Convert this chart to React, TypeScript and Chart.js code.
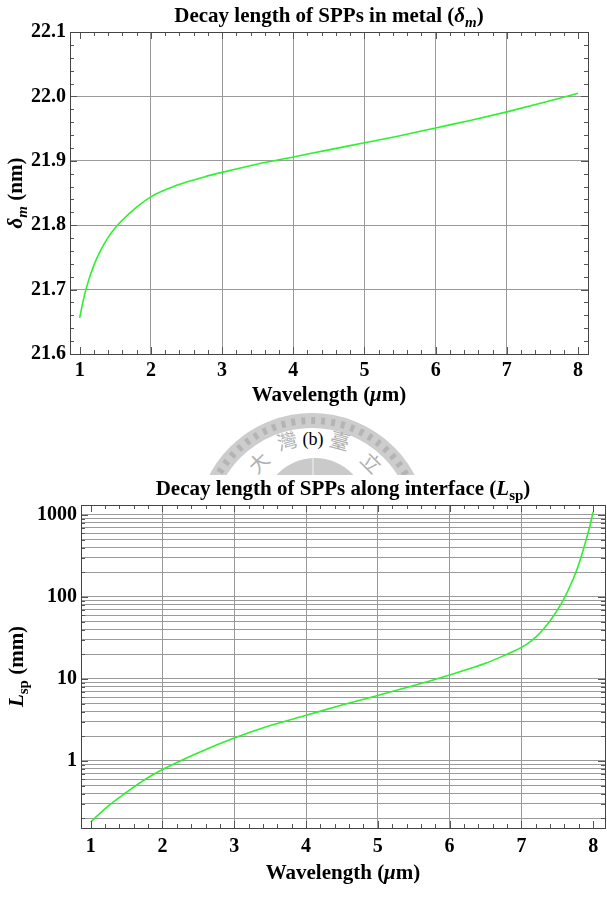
import React, { useEffect, useRef } from "react";
import { Chart, registerables } from "chart.js";

Chart.register(...registerables);

// ---------- data ----------
const wavelengthA = [1.0, 1.05, 1.1, 1.2, 1.3, 1.4, 1.5, 1.6, 1.8, 2.0, 2.25, 2.5, 2.75, 3.0, 3.5, 4.0, 4.5, 5.0, 5.5, 6.0, 6.5, 7.0, 7.5, 8.0];
const deltaM = [21.656, 21.683, 21.705, 21.738, 21.762, 21.781, 21.796, 21.808, 21.828, 21.844, 21.857, 21.867, 21.875, 21.882, 21.895, 21.906, 21.917, 21.928, 21.939, 21.951, 21.963, 21.976, 21.99, 22.005];

const wavelengthB = [1.0, 1.25, 1.5, 1.75, 2.0, 2.5, 3.0, 3.5, 4.0, 4.5, 5.0, 5.5, 6.0, 6.5, 6.8, 6.9, 7.0, 7.1, 7.2, 7.3, 7.4, 7.5, 7.6, 7.7, 7.8, 7.9, 7.95, 8.0];
const lsp = [0.18, 0.285, 0.415, 0.59, 0.785, 1.26, 1.9, 2.7, 3.6, 4.8, 6.3, 8.3, 11.2, 15.5, 20, 21.9, 24.3, 27.5, 32.4, 39.8, 51.3, 69, 97.7, 150, 251, 490, 708, 1096];

const xTickValues = [1, 2, 3, 4, 5, 6, 7, 8];
const yTicksA = [21.6, 21.7, 21.8, 21.9, 22.0, 22.1];
const yMajorB = [1, 10, 100, 1000];

const FONT = "'Liberation Serif', 'Times New Roman', serif";

type Seg = { t: string; it?: boolean; sub?: boolean };

function drawRich(ctx: CanvasRenderingContext2D, segs: Seg[], x: number, y: number, size: number, rotate = false) {
  ctx.save();
  ctx.translate(x, y);
  if (rotate) ctx.rotate(-Math.PI / 2);
  const fontFor = (s: Seg) => `${s.it ? "italic " : ""}bold ${s.sub ? Math.round(size * 0.7) : size}px ${FONT}`;
  const widths = segs.map((s) => {
    ctx.font = fontFor(s);
    return ctx.measureText(s.t).width;
  });
  const total = widths.reduce((a, b) => a + b, 0);
  let cx = -total / 2;
  ctx.fillStyle = "#000";
  ctx.textBaseline = "alphabetic";
  ctx.textAlign = "left";
  segs.forEach((s, i) => {
    ctx.font = fontFor(s);
    ctx.fillText(s.t, cx, s.sub ? size * 0.35 + size * 0.22 : size * 0.35);
    cx += widths[i];
  });
  ctx.restore();
}

type Deco = {
  title: Seg[];
  titleY: number;
  xTitle: Seg[];
  xTitleY: number;
  yTitle: Seg[];
  yTitleX: number;
  xMinor: number[];
  yMajor: number[];
  yMinor: number[];
};

function decoPlugin(d: Deco) {
  return {
    id: "deco",
    afterDraw(chart: any) {
      const ctx: CanvasRenderingContext2D = chart.ctx;
      const a = chart.chartArea;
      const xs = chart.scales.x;
      const ys = chart.scales.y;
      ctx.save();
      ctx.strokeStyle = "#555";
      ctx.lineWidth = 1;
      const tick = (vals: number[], len: number, horiz: boolean) => {
        vals.forEach((v) => {
          if (horiz) {
            const px = Math.round(xs.getPixelForValue(v)) + 0.5;
            ctx.beginPath();
            ctx.moveTo(px, a.bottom);
            ctx.lineTo(px, a.bottom - len);
            ctx.moveTo(px, a.top);
            ctx.lineTo(px, a.top + len);
            ctx.stroke();
          } else {
            const py = Math.round(ys.getPixelForValue(v)) + 0.5;
            ctx.beginPath();
            ctx.moveTo(a.left, py);
            ctx.lineTo(a.left + len, py);
            ctx.moveTo(a.right, py);
            ctx.lineTo(a.right - len, py);
            ctx.stroke();
          }
        });
      };
      tick(xTickValues, 7, true);
      tick(d.xMinor, 4, true);
      tick(d.yMajor, 7, false);
      tick(d.yMinor, 4, false);
      ctx.strokeStyle = "#444";
      ctx.strokeRect(Math.round(a.left) + 0.5, Math.round(a.top) + 0.5, Math.round(a.right - a.left), Math.round(a.bottom - a.top));
      ctx.restore();
      const cx = (a.left + a.right) / 2;
      const cy = (a.top + a.bottom) / 2;
      drawRich(ctx, d.title, cx, d.titleY, 21);
      drawRich(ctx, d.xTitle, cx, d.xTitleY, 21);
      drawRich(ctx, d.yTitle, d.yTitleX, cy, 21, true);
    },
  };
}

const minorX: number[] = [];
for (let i = 1; i < 8; i++) for (let k = 1; k < 5; k++) minorX.push(i + k * 0.2);

function useChart(ref: React.RefObject<HTMLCanvasElement | null>, make: (c: HTMLCanvasElement) => Chart) {
  useEffect(() => {
    if (!ref.current) return;
    const ch = make(ref.current);
    return () => ch.destroy();
  }, []);
}

const gridColorX = (c: any) => (c.tick && (c.tick.value === 1 || c.tick.value === 8) ? "rgba(0,0,0,0)" : "#9a9a9a");

export default function App() {
  const refA = useRef<HTMLCanvasElement>(null);
  const refB = useRef<HTMLCanvasElement>(null);

  useChart(refA, (canvas) => {
    const minorY: number[] = [];
    for (let i = 0; i < 5; i++) for (let k = 1; k < 5; k++) minorY.push(21.6 + i * 0.1 + k * 0.02);
    return new Chart(canvas, {
      type: "line",
      data: {
        datasets: [
          {
            data: wavelengthA.map((x, i) => ({ x, y: deltaM[i] })),
            borderColor: "#2ef02e",
            borderWidth: 1.6,
            pointRadius: 0,
            cubicInterpolationMode: "monotone",
            fill: false,
          },
        ],
      },
      options: {
        animation: false,
        responsive: false,
        layout: { padding: { left: 0, right: 19, top: 32, bottom: 0 } },
        plugins: { legend: { display: false }, title: { display: false }, tooltip: { enabled: false } },
        scales: {
          x: {
            type: "linear",
            min: 0.864,
            max: 8.14,
            afterBuildTicks: (s: any) => {
              s.ticks = xTickValues.map((v) => ({ value: v }));
            },
            afterFit: (s: any) => {
              s.height = 56;
            },
            grid: { color: gridColorX, drawTicks: false, lineWidth: 1 },
            border: { display: false },
            ticks: { color: "#000", font: { family: FONT, size: 20, weight: "bold" }, padding: 5, maxRotation: 0, autoSkip: false },
          },
          y: {
            type: "linear",
            min: 21.6,
            max: 22.1,
            afterBuildTicks: (s: any) => {
              s.ticks = yTicksA.map((v) => ({ value: v }));
            },
            afterFit: (s: any) => {
              s.width = 70;
            },
            grid: { color: "#9a9a9a", drawTicks: false, lineWidth: 1 },
            border: { display: false },
            ticks: {
              color: "#000",
              font: { family: FONT, size: 20, weight: "bold" },
              padding: 4,
              autoSkip: false,
              callback: (v: any) => Number(v).toFixed(1),
            },
          },
        },
      },
      plugins: [
        decoPlugin({
          title: [{ t: "Decay length of SPPs in metal (" }, { t: "δ", it: true }, { t: "m", it: true, sub: true }, { t: ")" }],
          titleY: 15,
          xTitle: [{ t: "Wavelength (" }, { t: "μ", it: true }, { t: "m)" }],
          xTitleY: 394,
          yTitle: [{ t: "δ", it: true }, { t: "m", it: true, sub: true }, { t: " (nm)" }],
          yTitleX: 15,
          xMinor: minorX,
          yMajor: yTicksA,
          yMinor: minorY,
        }),
      ],
    } as any);
  });

  useChart(refB, (canvas) => {
    const minorY: number[] = [];
    for (let p = -1; p < 3; p++) for (let m = 2; m < 10; m++) minorY.push(Number((m * Math.pow(10, p)).toPrecision(3)));
    const allY = [...minorY, ...yMajorB].sort((a, b) => a - b);
    return new Chart(canvas, {
      type: "line",
      data: {
        datasets: [
          {
            data: wavelengthB.map((x, i) => ({ x, y: lsp[i] })),
            borderColor: "#2ef02e",
            borderWidth: 1.6,
            pointRadius: 0,
            cubicInterpolationMode: "monotone",
            fill: false,
          },
        ],
      },
      options: {
        animation: false,
        responsive: false,
        layout: { padding: { left: 0, right: 2, top: 30, bottom: 0 } },
        plugins: { legend: { display: false }, title: { display: false }, tooltip: { enabled: false } },
        scales: {
          x: {
            type: "linear",
            min: 0.865,
            max: 8.165,
            afterBuildTicks: (s: any) => {
              s.ticks = xTickValues.map((v) => ({ value: v }));
            },
            afterFit: (s: any) => {
              s.height = 78;
            },
            grid: { color: gridColorX, drawTicks: false, lineWidth: 1 },
            border: { display: false },
            ticks: { color: "#000", font: { family: FONT, size: 20, weight: "bold" }, padding: 7, maxRotation: 0, autoSkip: false },
          },
          y: {
            type: "logarithmic",
            min: 0.152,
            max: 1324,
            afterBuildTicks: (s: any) => {
              s.ticks = allY.map((v) => ({ value: v }));
            },
            afterFit: (s: any) => {
              s.width = 81;
            },
            grid: { color: "#9a9a9a", drawTicks: false, lineWidth: 1 },
            border: { display: false },
            ticks: {
              color: "#000",
              font: { family: FONT, size: 20, weight: "bold" },
              padding: 4,
              autoSkip: false,
              callback: (v: any) => (yMajorB.includes(Number(v)) ? String(v) : ""),
            },
          },
        },
      },
      plugins: [
        decoPlugin({
          title: [{ t: "Decay length of SPPs along interface (" }, { t: "L", it: true }, { t: "sp", sub: true }, { t: ")" }],
          titleY: 13,
          xTitle: [{ t: "Wavelength (" }, { t: "μ", it: true }, { t: "m)" }],
          xTitleY: 397,
          yTitle: [{ t: "L", it: true }, { t: "sp", sub: true }, { t: " (mm)" }],
          yTitleX: 16,
          xMinor: minorX,
          yMajor: yMajorB,
          yMinor: minorY,
        }),
      ],
    } as any);
  });

  return (
    <div style={{ position: "absolute", left: 0, top: 0, width: 607, height: 906, background: "#fff", overflow: "hidden" }}>
      <canvas ref={refA} width={607} height={410} style={{ position: "absolute", left: 0, top: 0, zIndex: 2 }} />
      <svg width={607} height={80} style={{ position: "absolute", left: 0, top: 400, zIndex: 1 }}>
        <circle cx={312} cy={129} r={108.5} fill="none" stroke="#cdcdcd" strokeWidth={15} />
        <circle cx={312} cy={129} r={108.5} fill="none" stroke="#b4b4b4" strokeWidth={7} strokeDasharray="4 6" />
        <circle cx={315} cy={110} r={52} fill="#cacaca" />
        <line x1={313} y1={58} x2={313} y2={80} stroke="#e6e6e6" strokeWidth={1.5} />
        <g fill="#b0b0b0" fontFamily="'Noto Sans CJK TC'" fontSize={20} textAnchor="middle" dominantBaseline="central">
          <text transform="translate(258,62) rotate(-45)">大</text>
          <text transform="translate(287,40) rotate(-15)">灣</text>
          <text transform="translate(340,40) rotate(15)">臺</text>
          <text transform="translate(372,62) rotate(45)">立</text>
        </g>
        <text x={313} y={39} fill="#000" fontFamily="'Liberation Serif'" fontSize={18} textAnchor="middle" dominantBaseline="central">(b)</text>
      </svg>
      <canvas ref={refB} width={607} height={431} style={{ position: "absolute", left: 0, top: 475, zIndex: 2, background: "#fff" }} />
    </div>
  );
}
